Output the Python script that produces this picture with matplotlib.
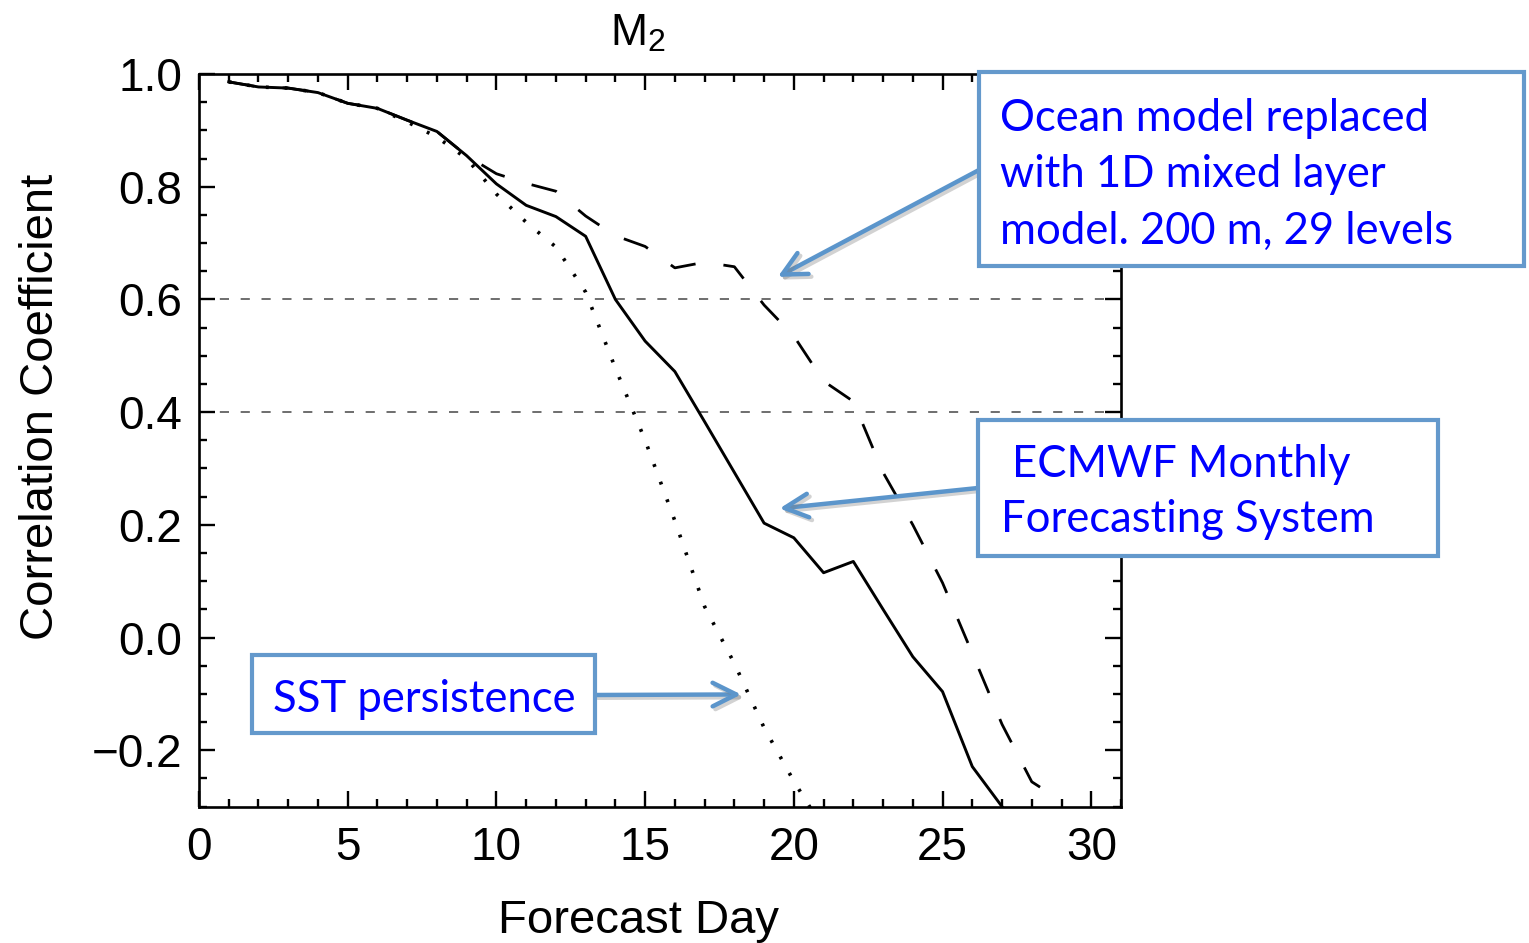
import numpy as np
import matplotlib
matplotlib.use("Agg")
import matplotlib.pyplot as plt
import matplotlib.patheffects as pe
from matplotlib.patches import Rectangle
from matplotlib.ticker import FixedLocator, MultipleLocator, FuncFormatter

# ---- correlation of M2 index vs forecast lead time ----
ecmwf_days = list(range(1, 28))
ecmwf_corr = [0.986, 0.977, 0.975, 0.967, 0.948, 0.939, 0.918, 0.898, 0.855,
              0.805, 0.767, 0.747, 0.712, 0.600, 0.526, 0.472, 0.383, 0.293,
              0.203, 0.177, 0.115, 0.135, 0.050, -0.034, -0.096, -0.229, -0.300]

mixed_days = list(range(1, 30))
mixed_corr = [0.986, 0.977, 0.975, 0.967, 0.948, 0.939, 0.918, 0.898, 0.855,
              0.823, 0.806, 0.792, 0.748, 0.713, 0.694, 0.656, 0.666, 0.658,
              0.590, 0.535, 0.455, 0.419, 0.293, 0.200, 0.097, -0.028, -0.154,
              -0.256, -0.290]

sst_days = list(range(1, 22))
sst_corr = [0.986, 0.977, 0.975, 0.967, 0.948, 0.939, 0.915, 0.888, 0.850,
            0.787, 0.737, 0.693, 0.613, 0.478, 0.350, 0.207, 0.055, -0.046,
            -0.160, -0.255, -0.340]

ref_levels = [0.6, 0.4]
y_major = [-0.2, 0.0, 0.2, 0.4, 0.6, 0.8, 1.0]

W, H = 1529, 943
BLUE_EDGE = "#6499cc"
BLUE_TEXT = "#0000ff"
AXES_FONT = "Liberation Sans"


def fx(x):
    return x / W


def fy(y):
    return 1 - y / H


fig = plt.figure(figsize=(W / 100, H / 100), dpi=100)
ax = fig.add_axes([fx(199), fy(806.6), (1121 - 199) / W, (806.6 - 74) / H])
ax.set_xlim(0, 31)
ax.set_ylim(-0.3, 1.0)

for lvl in ref_levels:
    ax.axhline(lvl, color="#555555", lw=1.2, ls=(0, (5.5, 7)), zorder=1)

ax.plot(ecmwf_days, ecmwf_corr, color="black", lw=2.1, zorder=3)
mixed_line, = ax.plot(mixed_days, mixed_corr, color="black", lw=2.0, zorder=3)
ax.plot(sst_days, sst_corr, color="black", lw=2.6,
        ls=(0, (0.8, 4.4)), zorder=3)

# dash pattern of the mixed-layer curve: 16 dash periods between day 9.5
# (where it leaves the other curves) and day 27.75, dash ~48% of each period
lw_m = mixed_line.get_linewidth()
pts = ax.transData.transform(np.column_stack([mixed_days, mixed_corr]))
arc = np.concatenate([[0.0], np.cumsum(np.hypot(*np.diff(pts, axis=0).T))])
to_pt = 72.0 / fig.dpi
s_a = np.interp(9.5, mixed_days, arc) * to_pt
s_b = np.interp(27.75, mixed_days, arc) * to_pt
period = (s_b - s_a) / 16
dash_on = 0.48 * period
dash_off = period - dash_on
mixed_line.set_linestyle(((-s_a % period) / lw_m,
                          (dash_on / lw_m, dash_off / lw_m)))

ax.xaxis.set_major_locator(MultipleLocator(5))
ax.xaxis.set_minor_locator(MultipleLocator(1))
ax.yaxis.set_major_locator(FixedLocator(y_major))
ax.yaxis.set_minor_locator(MultipleLocator(0.05))
ax.yaxis.set_major_formatter(FuncFormatter(lambda v, p: f"{v:.1f}".replace("-", "\u2212")))

ax.tick_params(which="both", direction="in", top=True, right=True,
               labeltop=False, labelright=False, width=1.7, color="black")
ax.tick_params(which="major", length=11.5)
ax.tick_params(which="minor", length=6)
ax.tick_params(axis="x", which="major", pad=14, labelsize=33)
ax.tick_params(axis="y", which="major", pad=12, labelsize=33)
for lab in ax.get_xticklabels() + ax.get_yticklabels():
    lab.set_fontfamily(AXES_FONT)
for sp in ax.spines.values():
    sp.set_linewidth(1.9)

ax.set_xlabel("Forecast Day", fontsize=34, family=AXES_FONT, va="baseline")
ax.xaxis.set_label_coords((639 - 199) / 922, (806.6 - 933) / 732.6)
ax.set_ylabel("Correlation Coefficient", fontsize=34, family=AXES_FONT,
              va="baseline", rotation_mode="anchor")
ax.yaxis.set_label_coords((53 - 199) / 922, (806.6 - 407) / 732.6)

# title: M with subscript 2
fig.text(fx(610), fy(45), "M", fontsize=32, family=AXES_FONT,
         ha="left", va="baseline")
fig.text(fx(647), fy(51), "2", fontsize=23, family=AXES_FONT,
         ha="left", va="baseline")

# ---- callout boxes ----
boxes = [
    (979, 72, 1524, 266),
    (978, 420, 1438, 556),
    (252, 655, 595, 733),
]
for x0, y0, x1, y1 in boxes:
    r = Rectangle((fx(x0), fy(y1)), (x1 - x0) / W, (y1 - y0) / H,
                  transform=fig.transFigure, facecolor="white",
                  edgecolor=BLUE_EDGE, lw=3.0, zorder=5)
    fig.add_artist(r)

box_lines = [
    (1000, 131, "Ocean model replaced"),
    (1000, 187, "with 1D mixed layer"),
    (1000, 244, "model. 200 m, 29 levels"),
    (1012, 477, "ECMWF Monthly"),
    (1001, 532, "Forecasting System"),
    (273, 712, "SST persistence"),
]
for x, y, s in box_lines:
    fig.text(fx(x), fy(y), s, fontsize=31.4, family="Lato", color=BLUE_TEXT,
             ha="left", va="baseline", zorder=6)

# ---- arrows from boxes to curves ----
arrows = [
    ((979, 170), (19.46, 0.640)),
    ((978, 488), (19.52, 0.229)),
    ((595, 695), (18.23, -0.101)),
]
for (sx, sy), (dx, dy) in arrows:
    ax.annotate("", xy=(dx, dy), xycoords="data",
                xytext=(fx(sx), fy(sy)), textcoords="figure fraction",
                annotation_clip=False,
                arrowprops=dict(arrowstyle="->,head_length=1.7,head_width=0.85",
                                mutation_scale=10, lw=3.2, color="#5b95cb",
                                shrinkA=0, shrinkB=0, capstyle="round",
                                joinstyle="round",
                                path_effects=[pe.SimpleLineShadow(offset=(2, -2), shadow_color="gray", alpha=0.35),
                                              pe.Normal()]),
                zorder=4)

fig.savefig("out.png", dpi=100)
